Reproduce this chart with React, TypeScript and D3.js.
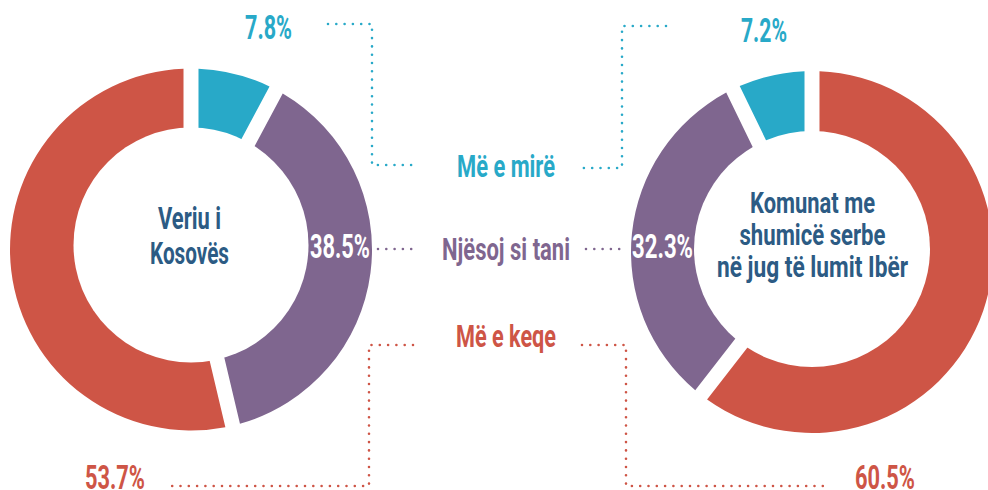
import React from "react";
import * as d3 from "d3";

// ---- data ----
const categories = ["Më e mirë", "Njësoj si tani", "Më e keqe"];
const veriuValues = [7.8, 38.5, 53.7];
const jugValues = [7.2, 32.3, 60.5];
const veriuTitle = ["Veriu i", "Kosovës"];
const jugTitle = ["Komunat me", "shumicë serbe", "në jug të lumit Ibër"];
const colors = ["#28a9c8", "#7f668f", "#ce5546"];

// ---- layout ----
const W = 988;
const H = 490;
const FONT = "Roboto, 'Liberation Sans', sans-serif";
const NAVY = "#2c5b84";
const R_OUT = 181;
const R_IN = 100;

const fmt = (v: number) => d3.format(".1f")(v) + "%";

type LabelPos = { x: number; y: number; len: number; fill?: string };

const veriuPct: LabelPos[] = [
  { x: 245, y: 39, len: 47 },
  { x: 310, y: 258, len: 60, fill: "#fff" },
  { x: 85, y: 489, len: 60 },
];
const jugPct: LabelPos[] = [
  { x: 741, y: 42, len: 46 },
  { x: 632, y: 258, len: 61, fill: "#fff" },
  { x: 855, y: 489, len: 60 },
];
const catPos: LabelPos[] = [
  { x: 457, y: 177, len: 98 },
  { x: 442, y: 260, len: 128 },
  { x: 456, y: 347, len: 100 },
];
const leaders: string[][] = [
  ["M328,24H372V165H415", "M666,26H622V168H579"],
  ["M378,249H415", "M586,249H623"],
  ["M413,345H369V486H167", "M582,345H626V486H829"],
];

function Donut(props: {
  cx: number;
  cy: number;
  hole: { dy: number; r: number };
  values: number[];
  clockwise: boolean;
}) {
  const { cx, cy, hole, values, clockwise } = props;
  const pie = d3
    .pie<number>()
    .sort(null)
    .startAngle(0)
    .endAngle(clockwise ? 2 * Math.PI : -2 * Math.PI);
  const arc = d3
    .arc<d3.PieArcDatum<number>>()
    .innerRadius(R_IN)
    .outerRadius(R_OUT)
    .padAngle(0.15)
    .padRadius(100);
  const arcs = pie(values);
  return (
    <g>
      <g transform={`translate(${cx},${cy})`}>
        {arcs.map((a, i) => (
          <path key={i} d={arc(a) || ""} fill={colors[i]} />
        ))}
      </g>
      <circle cx={cx} cy={cy + hole.dy} r={hole.r} fill="#fff" />
    </g>
  );
}

function Title(props: {
  lines: string[];
  x: number;
  y0: number;
  dy: number;
  size: number;
  lens: number[];
}) {
  const { lines, x, y0, dy, size, lens } = props;
  return (
    <g>
      {lines.map((t, i) => (
        <text
          key={i}
          x={x}
          y={y0 + i * dy}
          textAnchor="middle"
          fontFamily={FONT}
          fontWeight={700}
          fontSize={size}
          fill={NAVY}
          textLength={lens[i]}
          lengthAdjust="spacingAndGlyphs"
        >
          {t}
        </text>
      ))}
    </g>
  );
}

export default function App() {
  return (
    <svg
      width={W}
      height={H}
      style={{ position: "absolute", left: 0, top: 0, background: "#fff" }}
    >
      <Donut
        cx={191}
        cy={249.5}
        hole={{ dy: -4.5, r: 117.5 }}
        values={veriuValues}
        clockwise={true}
      />
      <Donut
        cx={812}
        cy={252}
        hole={{ dy: -3, r: 118 }}
        values={jugValues}
        clockwise={false}
      />

      {leaders.map((pair, i) =>
        pair.map((d, j) => (
          <path
            key={`${i}-${j}`}
            d={d}
            fill="none"
            stroke={colors[i]}
            strokeWidth={2.6}
            strokeLinecap="round"
            strokeDasharray="0 8.3"
          />
        ))
      )}

      {categories.map((c, i) => (
        <text
          key={c}
          x={catPos[i].x}
          y={catPos[i].y}
          fontFamily={FONT}
          fontWeight={700}
          fontSize={31}
          fill={colors[i]}
          textLength={catPos[i].len}
          lengthAdjust="spacingAndGlyphs"
        >
          {c}
        </text>
      ))}

      {veriuValues.map((v, i) => (
        <text
          key={`v${i}`}
          x={veriuPct[i].x}
          y={veriuPct[i].y}
          fontFamily={FONT}
          fontWeight={700}
          fontSize={34}
          fill={veriuPct[i].fill || colors[i]}
          textLength={veriuPct[i].len}
          lengthAdjust="spacingAndGlyphs"
        >
          {fmt(v)}
        </text>
      ))}
      {jugValues.map((v, i) => (
        <text
          key={`j${i}`}
          x={jugPct[i].x}
          y={jugPct[i].y}
          fontFamily={FONT}
          fontWeight={700}
          fontSize={34}
          fill={jugPct[i].fill || colors[i]}
          textLength={jugPct[i].len}
          lengthAdjust="spacingAndGlyphs"
        >
          {fmt(v)}
        </text>
      ))}

      <Title lines={veriuTitle} x={189.5} y0={229} dy={35} size={32} lens={[63, 79]} />
      <Title
        lines={jugTitle}
        x={812.5}
        y0={213}
        dy={32}
        size={29}
        lens={[125, 146, 191]}
      />
    </svg>
  );
}
